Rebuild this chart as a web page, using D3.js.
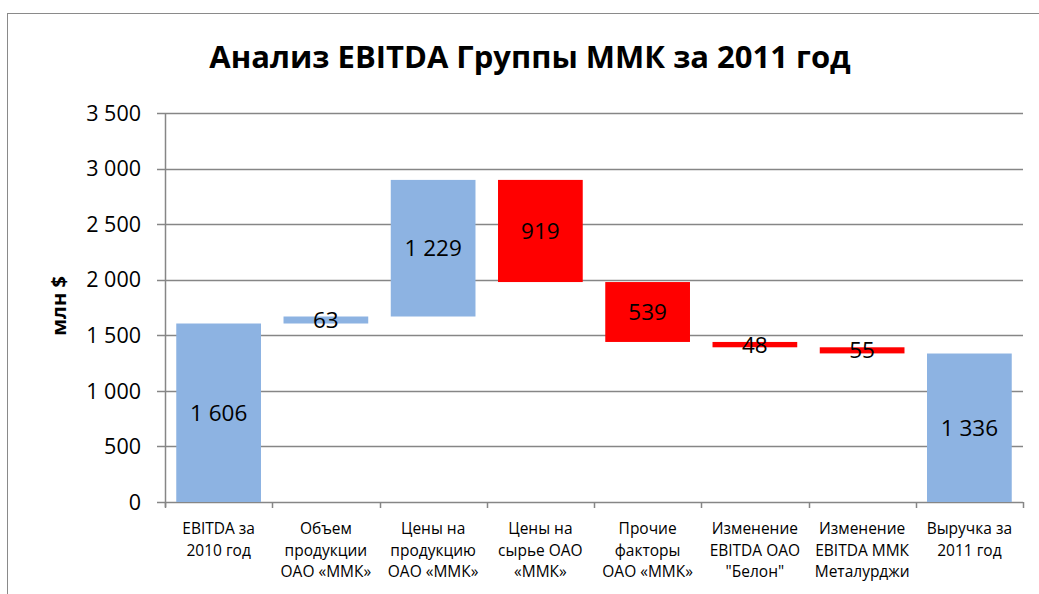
<!DOCTYPE html>
<html>
<head>
<meta charset="utf-8">
<script src="https://cdn.jsdelivr.net/npm/d3@7"></script>
<style>
  html, body { margin: 0; padding: 0; background: #fff; }
  svg { display: block; }
  text { font-family: "Open Sans", "Noto Sans", sans-serif; fill: #000; }
</style>
</head>
<body>
<svg id="chart" width="1039" height="594"></svg>
<script>
// ---- Data ----
const categories = [
  ["EBITDA за", "2010 год"],
  ["Объем", "продукции", "ОАО «ММК»"],
  ["Цены на", "продукцию", "ОАО «ММК»"],
  ["Цены на", "сырье ОАО", "«ММК»"],
  ["Прочие", "факторы", "ОАО «ММК»"],
  ["Изменение", "EBITDA ОАО", "\"Белон\""],
  ["Изменение", "EBITDA ММК", "Металурджи"],
  ["Выручка за", "2011 год"]
];
const values = [1606, 63, 1229, -919, -539, -48, -55, 1336];
const kinds = ["total", "up", "up", "down", "down", "down", "down", "total"];
const yTicks = [0, 500, 1000, 1500, 2000, 2500, 3000, 3500];
const titleText = "Анализ EBITDA Группы ММК за 2011 год";
const yAxisTitle = "млн $";

// ---- Layout ----
const svg = d3.select("#chart");
const plot = { left: 165, right: 1023, top: 113, bottom: 502 };
const colors = { total: "#8DB3E2", up: "#8DB3E2", down: "#FF0000" };
const gridColor = "#868686";

const loc = d3.formatLocale({ decimal: ",", thousands: " ", grouping: [3], currency: ["", ""] });
const fmt = loc.format(",d");

// compute waterfall segments
let running = 0;
const bars = values.map((v, i) => {
  let lo, hi;
  if (kinds[i] === "total") { lo = 0; hi = v; running = v; }
  else { const next = running + v; lo = Math.min(running, next); hi = Math.max(running, next); running = next; }
  return { i, v, lo, hi, kind: kinds[i] };
});

const x = d3.scaleBand().domain(d3.range(categories.length))
  .range([plot.left, plot.right]).paddingInner(0.21).paddingOuter(0.105);
const y = d3.scaleLinear().domain([0, 3500]).range([plot.bottom, plot.top]);

// outer chart border
svg.append("rect").attr("x", 7.5).attr("y", 13.5).attr("width", 1100).attr("height", 700)
  .attr("fill", "none").attr("stroke", "#8a8a8a").attr("stroke-width", 1);

// gridlines
svg.append("g").selectAll("line").data(yTicks).join("line")
  .attr("x1", plot.left - 8).attr("x2", plot.right)
  .attr("y1", d => Math.round(y(d)) + 0.5).attr("y2", d => Math.round(y(d)) + 0.5)
  .attr("stroke", gridColor).attr("stroke-width", 1.5);

// y axis line
svg.append("line").attr("x1", plot.left + 0.5).attr("x2", plot.left + 0.5)
  .attr("y1", plot.top).attr("y2", plot.bottom + 5)
  .attr("stroke", gridColor).attr("stroke-width", 1.5);

// x ticks at category boundaries
const step = x.step();
svg.append("g").selectAll("line").data(d3.range(categories.length + 1)).join("line")
  .attr("x1", d => Math.round(plot.left + d * step) + 0.5)
  .attr("x2", d => Math.round(plot.left + d * step) + 0.5)
  .attr("y1", plot.bottom).attr("y2", plot.bottom + 6)
  .attr("stroke", gridColor).attr("stroke-width", 1.5);

// y tick labels
svg.append("g").selectAll("text").data(yTicks).join("text")
  .attr("x", 141).attr("y", d => y(d)).attr("dy", "0.36em")
  .attr("text-anchor", "end").attr("font-size", 21.5)
  .text(d => fmt(d));

// bars
svg.append("g").selectAll("rect").data(bars).join("rect")
  .attr("x", d => x(d.i)).attr("width", x.bandwidth())
  .attr("y", d => y(d.hi)).attr("height", d => y(d.lo) - y(d.hi))
  .attr("fill", d => colors[d.kind]);

// data labels
svg.append("g").selectAll("text").data(bars).join("text")
  .attr("x", d => x(d.i) + x.bandwidth() / 2)
  .attr("y", d => (y(d.lo) + y(d.hi)) / 2).attr("dy", "0.36em")
  .attr("text-anchor", "middle").attr("font-size", 22.5)
  .text(d => fmt(Math.abs(d.v)));

// category labels
const cat = svg.append("g").selectAll("text").data(categories).join("text")
  .attr("text-anchor", "middle").attr("font-size", 15.5);
cat.each(function(lines, i) {
  d3.select(this).selectAll("tspan").data(lines).join("tspan")
    .attr("x", plot.left + (i + 0.5) * step)
    .attr("y", (d, j) => 534 + j * 21.5)
    .text(d => d);
});

// title
svg.append("text").attr("x", 530).attr("y", 68).attr("text-anchor", "middle")
  .attr("font-size", 31).attr("font-weight", "bold").text(titleText);

// y axis title
svg.append("text").attr("transform", "translate(66,306) rotate(-90)")
  .attr("text-anchor", "middle").attr("font-size", 20).attr("font-weight", "bold")
  .text(yAxisTitle);
</script>
</body>
</html>
